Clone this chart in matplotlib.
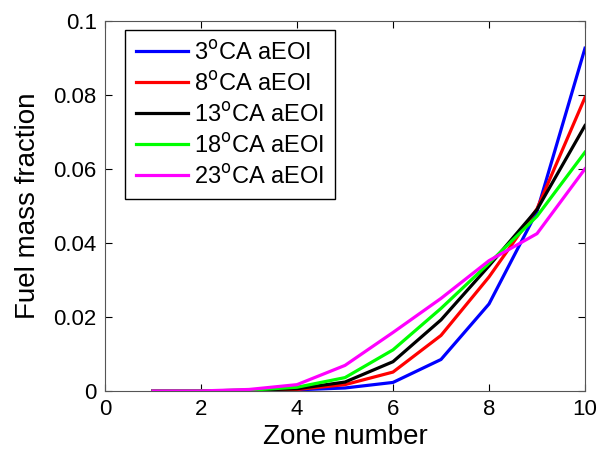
import matplotlib
matplotlib.use("Agg")
import matplotlib.pyplot as plt

plt.rcParams['font.family'] = ['Liberation Sans', 'DejaVu Sans']

zones = [1, 2, 3, 4, 5, 6, 7, 8, 9, 10]
labels = ["3$^{\\mathrm{o}}$CA aEOI", "8$^{\\mathrm{o}}$CA aEOI", "13$^{\\mathrm{o}}$CA aEOI",
          "18$^{\\mathrm{o}}$CA aEOI", "23$^{\\mathrm{o}}$CA aEOI"]
colors = ['#0000ff', '#ff0000', '#000000', '#00ff00', '#ff00ff']

eoi_3 = [0.0, 0.0, 0.0001, 0.0003, 0.0008, 0.0023, 0.0085, 0.0235, 0.0485, 0.0926]
eoi_8 = [0.0, 0.0, 0.0001, 0.0004, 0.0017, 0.0051, 0.0150, 0.0308, 0.0492, 0.0793]
eoi_13 = [0.0, 0.0, 0.0002, 0.0006, 0.0024, 0.0079, 0.0192, 0.0338, 0.0490, 0.0717]
eoi_18 = [0.0, 0.0, 0.0002, 0.0010, 0.0036, 0.0111, 0.0223, 0.0345, 0.0472, 0.0645]
eoi_23 = [0.0, 0.0, 0.0004, 0.0017, 0.0069, 0.0158, 0.0250, 0.0352, 0.0425, 0.0600]
series = [eoi_3, eoi_8, eoi_13, eoi_18, eoi_23]

fig = plt.figure(figsize=(6, 4.53), dpi=100)
ax = fig.add_axes([0.175, 0.137, 0.8, 0.817])

for vals, lab, col in zip(series, labels, colors):
    ax.plot(zones, vals, color=col, lw=2.3, label=lab)

ax.set_xlim(0, 10)
ax.set_ylim(0, 0.1)
ax.set_xticks([0, 2, 4, 6, 8, 10])
ax.set_yticks([0, 0.02, 0.04, 0.06, 0.08, 0.1])
ax.set_yticklabels(['0', '0.02', '0.04', '0.06', '0.08', '0.1'])
ax.tick_params(direction='in', labelsize=16, top=True, right=True, length=5, pad=6)
for s in ax.spines.values():
    s.set_color('#555555')
ax.set_xlabel('Zone number', fontsize=20, labelpad=3)
ax.set_ylabel('Fuel mass fraction', fontsize=20, labelpad=9)

leg = ax.legend(loc='upper left', fontsize=17, fancybox=False, edgecolor='black',
                framealpha=1, handlelength=2.2, handletextpad=0.25, borderpad=0.45,
                labelspacing=0.3, borderaxespad=0, bbox_to_anchor=(0.042, 0.976))
leg.get_frame().set_linewidth(1.0)

fig.savefig('out.png', dpi=100)
